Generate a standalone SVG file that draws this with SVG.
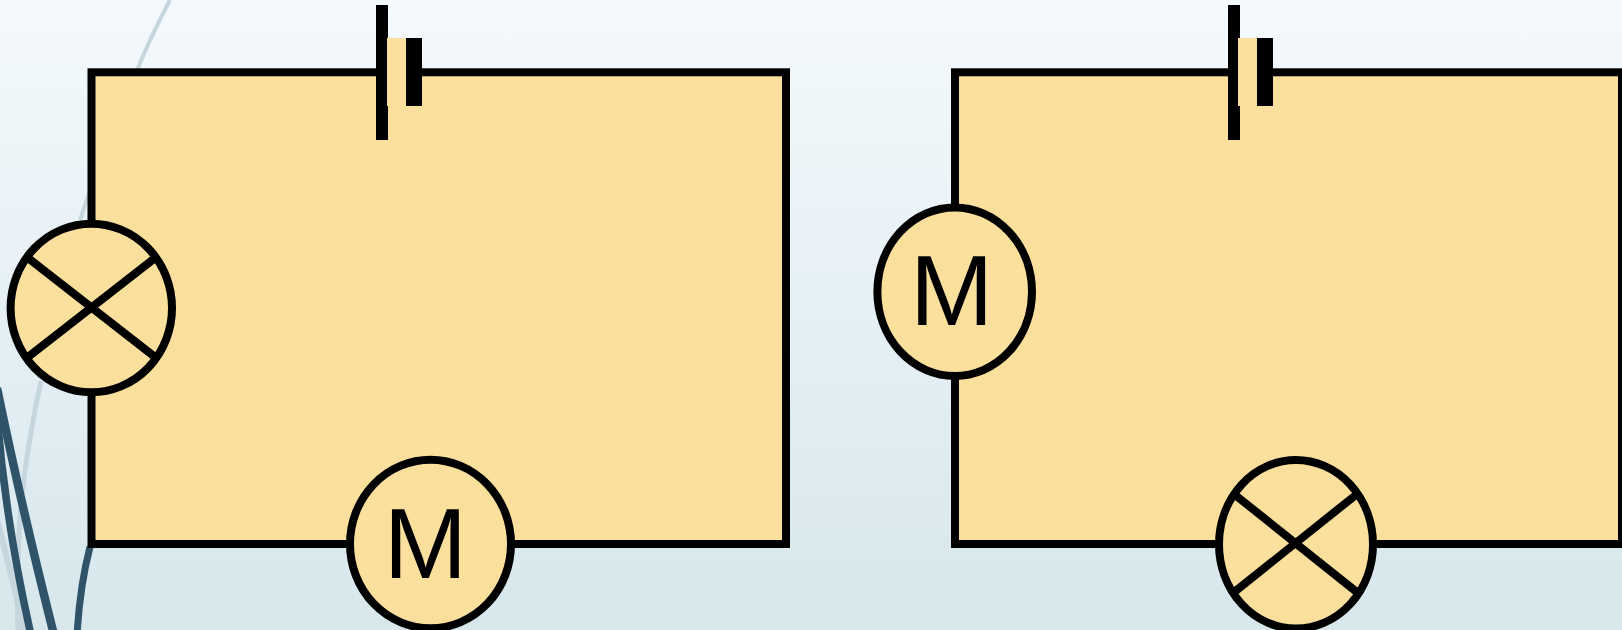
<svg xmlns="http://www.w3.org/2000/svg" width="1622" height="630" viewBox="0 0 1622 630">
<defs>
<linearGradient id="bg" x1="0" y1="0" x2="0" y2="1"><stop offset="0" stop-color="#f4f9fc"/><stop offset="0.5" stop-color="#e5f0f5"/><stop offset="1" stop-color="#d7e7ec"/></linearGradient>
</defs>
<style>
.wire{fill:#fbe09d;stroke:#000;stroke-width:8}
.part{fill:#fbe09d;stroke:#000;stroke-width:8}
.x{fill:none;stroke:#000;stroke-width:8}
.m{font-family:"Liberation Sans",Arial,sans-serif;font-size:100px;fill:#000;text-anchor:middle;text-rendering:geometricPrecision}
.cream{fill:#fbe09d}
.bar{fill:#000}
.dark{fill:none;stroke:#2f5369}
.light{fill:none;stroke:#c6d6de}
</style>
<rect width="1622" height="630" fill="url(#bg)"/>
<g id="backdrop">
<path class="light" stroke="#cfdde5" stroke-width="4" d="M170 0 Q150 38 138 68 Q110 130 80 220"/>
<path class="light" stroke-width="5" d="M41 381 Q22 470 19 534 Q17 590 18 630"/>
<path class="light" stroke-width="6" d="M-3 520 Q12 575 25 635"/>
<path class="dark" stroke-width="7.5" d="M-3 415 Q6 525 31 635"/>
<path class="dark" stroke-width="8.5" d="M-3 388 Q20 500 54 635"/>
<path class="dark" stroke-width="7" d="M90 547 Q80 585 77 635"/>
</g>
<g id="connectors">
<rect class="wire" x="91.5" y="72.3" width="694.5" height="471.7"/>
<rect class="wire" x="955" y="72.3" width="667" height="471.7"/>
</g>
<g id="battery-left">
<rect class="bar" x="376" y="5" width="12" height="135"/>
<rect class="cream" x="387" y="38" width="19" height="68"/>
<rect class="bar" x="406" y="38" width="16" height="68"/>
</g>
<g id="lamp-left">
<ellipse class="part" cx="91.3" cy="308" rx="80.7" ry="84.3"/>
<path class="x" d="M28 258 L155 357 M155 258 L28 357"/>
</g>
<g id="motor-left">
<ellipse class="part" cx="430.5" cy="544" rx="80.5" ry="84.3"/>
<text class="m" x="425.5" y="577.5">M</text>
</g>
<g id="battery-right">
<rect class="bar" x="1228" y="5" width="12" height="135"/>
<rect class="cream" x="1238" y="38" width="19" height="68"/>
<rect class="bar" x="1257" y="38" width="16" height="68"/>
</g>
<g id="motor-right">
<ellipse class="part" cx="954.7" cy="291.7" rx="77.3" ry="84.3"/>
<text class="m" x="951.7" y="325">M</text>
</g>
<g id="lamp-right">
<ellipse class="part" cx="1296" cy="544.3" rx="77" ry="84.3"/>
<path class="x" d="M1234.3 494.3 L1356.7 592 M1356.7 494.3 L1234.3 592"/>
</g>
</svg>
